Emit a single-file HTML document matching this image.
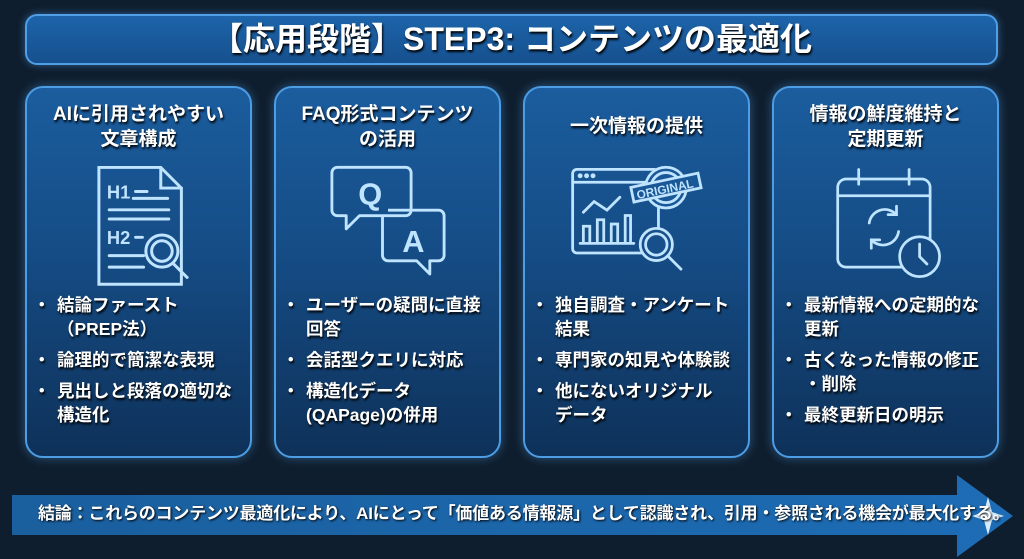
<!DOCTYPE html>
<html><head><meta charset="utf-8"><style>
*{margin:0;padding:0;box-sizing:border-box}
body{width:1024px;height:559px;background:#0f1e2e;position:relative;overflow:hidden;font-family:"Liberation Sans","Noto Sans CJK JP",sans-serif;color:#fff;font-weight:bold}
.title{position:absolute;left:25px;top:14px;width:973px;height:51px;border-radius:12px;background:linear-gradient(#1d64aa,#16508e);border:2px solid #4f9ee6;box-shadow:0 0 8px rgba(80,160,240,.5);text-align:center;font-size:32px;line-height:46px;text-shadow:1px 2px 2px #000}
.card{position:absolute;top:86px;width:227px;height:372px;border-radius:18px;background:linear-gradient(#1b5d9e 0%,#154c85 45%,#0e3159 100%);border:2px solid #4c9de4;box-shadow:0 0 10px rgba(80,160,240,.45)}
.ct{position:absolute;top:14px;left:0;right:0;text-align:center;font-size:19px;line-height:25px;text-shadow:1px 2px 2px #000}
.ct.one{top:26px}
.ic{position:absolute;left:50%;top:76px;transform:translateX(-50%)}
ul{position:absolute;top:205px;left:10px;right:4px;list-style:none;font-size:17.5px;line-height:24px;text-shadow:1px 2px 2px #000}
li{position:relative;padding-left:20px;margin-bottom:7px}
li:before{content:"・";position:absolute;left:-4px}
.arrow{position:absolute;left:0;top:0}
.concl{position:absolute;left:38px;top:502px;font-size:17px;line-height:24px;text-shadow:1px 1px 2px #000;white-space:nowrap;letter-spacing:-.2px}
</style></head><body>
<div class="title">【応用段階】STEP3: コンテンツの最適化</div>

<div class="card" style="left:25px">
<div class="ct">AIに引用されやすい<br>文章構成</div>
<svg class="ic" width="138" height="126" viewBox="0 0 120 110" fill="none" stroke="#bfe4ff" stroke-width="2.6" stroke-linecap="round">
<path d="M25 3h54l18 18v84H25z"/><path d="M79 3v18h18"/>
<text x="32" y="30" fill="#bfe4ff" stroke="none" font-size="16" font-family="Liberation Sans">H1</text>
<path d="M57 24h10M55 30h30M34 40h52M34 48h52"/>
<text x="32" y="70" fill="#bfe4ff" stroke="none" font-size="16" font-family="Liberation Sans">H2</text>
<path d="M57 64h6M34 80h30M34 90h30"/>
<circle cx="80" cy="76" r="14" fill="#174f8a"/><circle cx="80" cy="76" r="9"/><path d="M90 87l12 12"/>
</svg>
<ul><li>結論ファースト<br>（PREP法）</li><li>論理的で簡潔な表現</li><li>見出しと段落の適切な<br>構造化</li></ul>
</div>

<div class="card" style="left:274px">
<div class="ct">FAQ形式コンテンツ<br>の活用</div>
<svg class="ic" width="132" height="121" viewBox="0 0 120 110" fill="none" stroke="#bfe4ff" stroke-width="2.6" stroke-linejoin="round">
<path d="M14 3h62a5 5 0 0 1 5 5v34a5 5 0 0 1-5 5H34l-12 12v-12h-8a5 5 0 0 1-5-5V8a5 5 0 0 1 5-5z"/>
<text x="33" y="37" fill="#bfe4ff" stroke="none" font-size="28" font-family="Liberation Sans">Q</text>
<path d="M60 42h46a5 5 0 0 1 5 5v36a5 5 0 0 1-5 5h-8v12l-12-12H60a5 5 0 0 1-5-5V47"/>
<text x="73" y="80" fill="#bfe4ff" stroke="none" font-size="28" font-family="Liberation Sans">A</text>
</svg>
<ul><li>ユーザーの疑問に直接<br>回答</li><li>会話型クエリに対応</li><li>構造化データ<br>(QAPage)の併用</li></ul>
</div>

<div class="card" style="left:523px">
<div class="ct one">一次情報の提供</div>
<svg class="ic" width="140" height="118" viewBox="0 0 130 110" fill="none" stroke="#bfe4ff" stroke-width="2.6" stroke-linecap="round">
<rect x="5" y="5" width="80" height="78" rx="4"/><path d="M5 17h80"/>
<circle cx="12" cy="11" r="1" fill="#bfe4ff"/><circle cx="18" cy="11" r="1" fill="#bfe4ff"/><circle cx="24" cy="11" r="1" fill="#bfe4ff"/>
<path d="M15 45l10-10 12 8 12-12" /><path d="M15 72V58h6v14M28 72V52h6v20M41 72V56h6v16M54 72V48h5v24M12 74h50"/>
<circle cx="92" cy="22" r="19" fill="#1a5796"/><circle cx="92" cy="22" r="14"/>
<rect x="60" y="15" width="64" height="14" fill="#1a5796" transform="rotate(-12 92 22)"/>
<text x="64" y="27" fill="#bfe4ff" stroke="none" font-size="11" font-weight="bold" font-family="Liberation Sans" transform="rotate(-12 92 22)">ORIGINAL</text>
<circle cx="83" cy="75" r="15" fill="#174f8a"/><circle cx="83" cy="75" r="10"/><path d="M94 86l12 12"/>
</svg>
<ul><li>独自調査・アンケート<br>結果</li><li>専門家の知見や体験談</li><li>他にないオリジナル<br>データ</li></ul>
</div>

<div class="card" style="left:772px">
<div class="ct">情報の鮮度維持と<br>定期更新</div>
<svg class="ic" width="126" height="116" viewBox="0 0 120 110" fill="none" stroke="#bfe4ff" stroke-width="2.6" stroke-linecap="round">
<rect x="14" y="14" width="88" height="84" rx="8"/><path d="M14 30h88"/><path d="M34 5v14M82 5v14"/>
<path d="M44 56a15 15 0 0 1 26-8M72 64a15 15 0 0 1-26 8"/><path d="M70 40v8h-8M46 80v-8h8"/>
<circle cx="92" cy="88" r="19" fill="#164a82"/><path d="M92 76v12l7 7"/>
</svg>
<ul><li>最新情報への定期的な<br>更新</li><li>古くなった情報の修正<br>・削除</li><li>最終更新日の明示</li></ul>
</div>

<svg class="arrow" width="1024" height="559">
<defs><linearGradient id="ag" x1="0" x2="1"><stop offset="0" stop-color="#1a5f9e"/><stop offset="1" stop-color="#1d6cb5"/></linearGradient></defs>
<path d="M12 495H957V475L1013 516L957 557V535H12Z" fill="url(#ag)"/>
<path d="M988 497L992 512L1004 516L992 520L988 535L984 520L972 516L984 512Z" fill="#d6ecff"/>
</svg>
<div class="concl">結論：これらのコンテンツ最適化により、AIにとって「価値ある情報源」として認識され、引用・参照される機会が最大化する。</div>
</body></html>
